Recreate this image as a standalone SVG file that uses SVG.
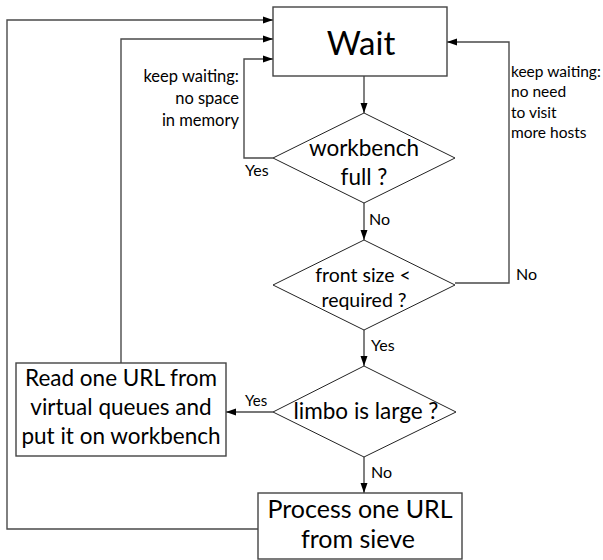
<svg xmlns="http://www.w3.org/2000/svg" width="603" height="560" viewBox="0 0 603 560">
  <style>
    .box { fill: #ffffff; stroke: #444444; stroke-width: 1.4; }
    .dia { fill: #ffffff; stroke: #222222; stroke-width: 1; }
    .edge { fill: none; stroke: #4a4a4a; stroke-width: 1.4; }
    text { font-family: Lato, "Open Sans", "DejaVu Sans", sans-serif; fill: #000000; }
    .big { font-size: 33px; text-anchor: middle; }
    .mid { font-size: 22.5px; text-anchor: middle; }
    .sm { font-size: 19.5px; text-anchor: middle; }
    .lg { font-size: 25px; text-anchor: middle; }
    .lbl { font-size: 16px; }
    .lbl-s { font-size: 15px; }
    .note { font-size: 16.5px; }
    .note-r { font-size: 15.5px; }
  </style>
  <defs>
    <marker id="arrow" viewBox="0 0 10 10" refX="10" refY="5" markerWidth="10" markerHeight="10" markerUnits="userSpaceOnUse" orient="auto">
      <path d="M0,1.5 L10,5 L0,8.5 Z" fill="#000000"/>
    </marker>
  </defs>
  <rect width="603" height="560" fill="#ffffff"/>

  <!-- connectors -->
  <g id="connectors">
    <path class="edge" d="M364,76 L364,113" marker-end="url(#arrow)"/>
    <path class="edge" d="M364,203 L364,240" marker-end="url(#arrow)"/>
    <path class="edge" d="M364,330 L364,366" marker-end="url(#arrow)"/>
    <path class="edge" d="M364,457 L364,493" marker-end="url(#arrow)"/>
    <!-- workbench full: yes loop -->
    <path class="edge" d="M273,158 L244,158 L244,59 L273,59" marker-end="url(#arrow)"/>
    <!-- front size: no loop -->
    <path class="edge" d="M455,283 L509,283 L509,42 L447,42" marker-end="url(#arrow)"/>
    <!-- limbo: yes -->
    <path class="edge" d="M273,412 L226,412" marker-end="url(#arrow)"/>
    <!-- read box back to wait -->
    <path class="edge" d="M121,363 L121,39 L273,39" marker-end="url(#arrow)"/>
    <!-- process back to wait -->
    <path class="edge" d="M258,529 L7,529 L7,20 L273,20" marker-end="url(#arrow)"/>
    <text class="lbl" x="369" y="225">No</text>
    <text class="lbl" x="516" y="280">No</text>
    <text class="lbl" x="371" y="351">Yes</text>
    <text class="lbl" x="371" y="478">No</text>
    <text class="lbl-s" x="245" y="406">Yes</text>
    <text class="lbl" x="245" y="176">Yes</text>
    <text class="note" x="239" y="82" text-anchor="end">keep waiting:</text>
    <text class="note" x="239" y="104" text-anchor="end">no space</text>
    <text class="note" x="239" y="126" text-anchor="end">in memory</text>
    <text class="note-r" x="511" y="77">keep waiting:</text>
    <text class="note-r" x="511" y="97">no need</text>
    <text class="note-r" x="511" y="118">to visit</text>
    <text class="note-r" x="511" y="138">more hosts</text>
  </g>

  <g id="wait">
    <rect class="box" x="273" y="7" width="174" height="69"/>
    <text class="big" x="361" y="55">Wait</text>
  </g>

  <g id="workbench-full">
    <polygon class="dia" points="364,113 455,158 364,203 273,158"/>
    <text class="mid" x="364" y="156">workbench</text>
    <text class="mid" x="364" y="185">full ?</text>
  </g>

  <g id="front-size">
    <polygon class="dia" points="364,240 455,285 364,330 273,285"/>
    <text class="sm" x="363" y="282">front size &lt;</text>
    <text class="sm" x="364" y="307">required ?</text>
  </g>

  <g id="limbo-large">
    <polygon class="dia" points="364,366 456,412 364,457 273,412"/>
    <text class="mid" x="366" y="419">limbo is large ?</text>
  </g>

  <g id="read-url">
    <rect class="box" x="16" y="363" width="210" height="93"/>
    <text class="mid" x="121" y="386">Read one URL from</text>
    <text class="mid" x="121" y="415">virtual queues and</text>
    <text class="mid" x="121" y="444">put it on workbench</text>
  </g>

  <g id="process-url">
    <rect class="box" x="258" y="493" width="204" height="66"/>
    <text class="lg" x="360" y="518">Process one URL</text>
    <text class="lg" x="358" y="548">from sieve</text>
  </g>
</svg>
